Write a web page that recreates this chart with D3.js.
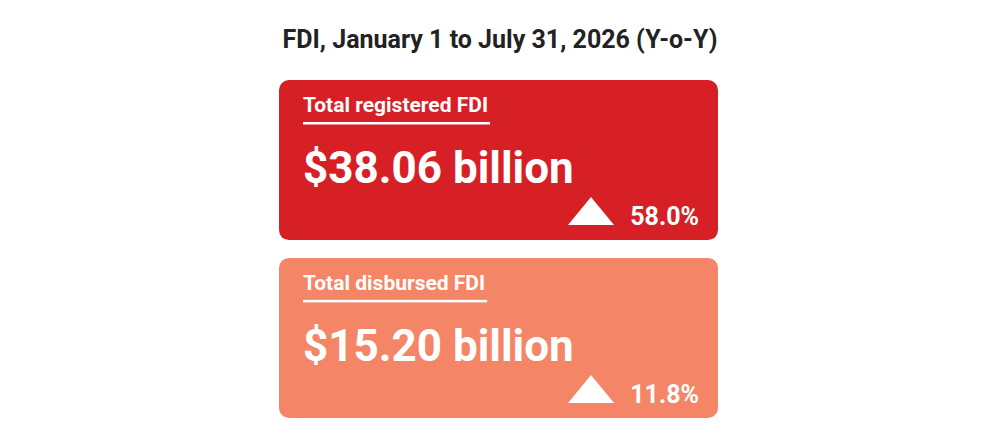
<!DOCTYPE html>
<html><head><meta charset="utf-8">
<script src="https://cdn.jsdelivr.net/npm/d3@7"></script>
<style>body{margin:0;background:#fff}text{font-family:"Liberation Sans Narrow","Roboto",sans-serif;font-weight:bold}</style>
</head><body><svg id="c" width="1000" height="448"></svg>
<script>
var title = "FDI, January 1 to July 31, 2026 (Y-o-Y)";
var labels = ["Total registered FDI", "Total disbursed FDI"];
var values = ["$38.06 billion", "$15.20 billion"];
var changes = ["58.0%", "11.8%"];
var colors = ["#d71f26", "#f48667"];

var svg = d3.select("#c");
var y = d3.scaleBand().domain(labels).range([80, 418]).paddingInner(0.1);
var x = d3.scaleLinear().domain([0, 1]).range([279, 718]);

svg.append("text").attr("x", 500).attr("y", 48).attr("text-anchor", "middle")
  .attr("font-size", 25).attr("fill", "#222").text(title);

var g = svg.selectAll("g.card").data(labels).join("g").attr("class", "card")
  .attr("transform", d => `translate(${x(0)},${y(d)})`);

g.append("rect").attr("width", x(1) - x(0)).attr("height", y.bandwidth())
  .attr("rx", 10).attr("fill", (d, i) => colors[i]);

g.append("text").attr("x", 24).attr("y", 32).attr("font-size", 21).attr("fill", "#fff").text(d => d)
  .each(function () {
    var w = this.getComputedTextLength();
    d3.select(this.parentNode).append("rect").attr("x", 24).attr("y", 42).attr("width", w + 2).attr("height", 2.5).attr("fill", "#fff");
  });

g.append("text").attr("x", 24).attr("y", 103).attr("font-size", 44).attr("fill", "#fff").text((d, i) => values[i]);

g.append("path").attr("d", "M289,145 L335,145 L312,117 Z").attr("fill", "#fff");
g.append("text").attr("x", 420).attr("y", 145).attr("text-anchor", "end").attr("font-size", 25)
  .attr("fill", "#fff").text((d, i) => changes[i]);
</script></body></html>
